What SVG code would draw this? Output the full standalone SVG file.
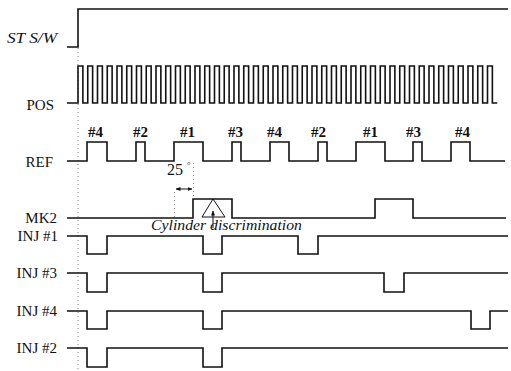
<svg xmlns="http://www.w3.org/2000/svg" width="511" height="371" viewBox="0 0 511 371">
<style>
.sig{fill:none;stroke:#111;stroke-width:1.6;stroke-linejoin:miter}
.lbl{font-family:"Liberation Serif",serif;font-size:15px;fill:#111;text-anchor:end}
.num{font-family:"Liberation Serif",serif;font-size:15px;fill:#111;font-weight:bold}
.deg{font-family:"Liberation Serif",serif;font-size:16px;fill:#111}
.dot{fill:none;stroke:#888;stroke-width:1;stroke-dasharray:1 3}
.ann{fill:none;stroke:#111;stroke-width:1}
</style>
<defs>
<marker id="ah" viewBox="0 0 10 10" refX="9" refY="5" markerWidth="5" markerHeight="5" orient="auto-start-reverse">
<path d="M0,1 L10,5 L0,9 z" fill="#111"/>
</marker>
</defs>
<rect width="511" height="371" fill="#fff"/>
<path class="dot" d="M78,48 V370"/>
<g id="stsw">
<text class="lbl" x="57" y="43" font-style="italic" textLength="50" lengthAdjust="spacingAndGlyphs">ST S/W</text>
<path class="sig" d="M67,47 H78 V9 H508"/>
</g>
<g id="pos">
<text class="lbl" x="54" y="110">POS</text>
<path class="sig" stroke-width="1.3" d="M67,103 H78 v-37h4.875v37h4.875 v-37h4.875v37h4.875 v-37h4.875v37h4.875 v-37h4.875v37h4.875 v-37h4.875v37h4.875 v-37h4.875v37h4.875 v-37h4.875v37h4.875 v-37h4.875v37h4.875 v-37h4.875v37h4.875 v-37h4.875v37h4.875 v-37h4.875v37h4.875 v-37h4.875v37h4.875 v-37h4.875v37h4.875 v-37h4.875v37h4.875 v-37h4.875v37h4.875 v-37h4.875v37h4.875 v-37h4.875v37h4.875 v-37h4.875v37h4.875 v-37h4.875v37h4.875 v-37h4.875v37h4.875 v-37h4.875v37h4.875 v-37h4.875v37h4.875 v-37h4.875v37h4.875 v-37h4.875v37h4.875 v-37h4.875v37h4.875 v-37h4.875v37h4.875 v-37h4.875v37h4.875 v-37h4.875v37h4.875 v-37h4.875v37h4.875 v-37h4.875v37h4.875 v-37h4.875v37h4.875 v-37h4.875v37h4.875 v-37h4.875v37h4.875 v-37h4.875v37h4.875 v-37h4.875v37h4.875 v-37h4.875v37h4.875 v-37h4.875v37h4.875 v-37h4.875v37h4.875 v-37h4.875v37h4.875 v-37h4.875v37h4.875 v-37h4.875v37h4.875 v-37h4.875v37h4.875 v-37h4.875v37h4.875"/>
</g>
<g id="ref">
<text class="lbl" x="53" y="167">REF</text>
<path class="sig" d="M67,161 H87 V142 H107 V161 H136 V142 H145 V161 H174 V142 H203 V161 H232 V142 H241 V161 H270 V142 H289 V161 H318 V142 H327 V161 H356 V142 H385 V161 H413 V142 H422 V161 H451 V142 H470 V161 H505"/>
<text class="num" x="88" y="137">#4</text>
<text class="num" x="133" y="137">#2</text>
<text class="num" x="180" y="137">#1</text>
<text class="num" x="228" y="137">#3</text>
<text class="num" x="267" y="137">#4</text>
<text class="num" x="311" y="137">#2</text>
<text class="num" x="363" y="137">#1</text>
<text class="num" x="406" y="137">#3</text>
<text class="num" x="455" y="137">#4</text>
</g>
<g id="angle">
<text class="deg" x="167" y="175">25</text>
<text x="187" y="168" font-family="Liberation Serif,serif" font-size="9" fill="#111">°</text>
<path class="dot" d="M193.5,163 V199 M174.5,192 V217"/>
</g>
<g id="mk2">
<text class="lbl" x="57" y="223">MK2</text>
<path class="sig" d="M67,218 H193 V199 H232 V218 H375 V199 H413 V218 H506"/>
<polygon class="ann" points="213,199 202,217 225,217"/>
<text x="151" y="230" font-family="Liberation Serif,serif" font-size="14.5" font-style="italic" fill="#111" textLength="151" lengthAdjust="spacingAndGlyphs">Cylinder discrimination</text>
</g>
<g id="inj1">
<text class="lbl" x="58" y="241">INJ #1</text>
<path class="sig" d="M67,236 H87 V254 H107 V236 H203 V254 H222 V236 H298 V254 H318 V236 H508"/>
</g>
<g id="inj3">
<text class="lbl" x="57" y="278">INJ #3</text>
<path class="sig" d="M67,273 H87 V292 H107 V273 H203 V292 H222 V273 H384 V292 H404 V273 H508"/>
</g>
<g id="inj4">
<text class="lbl" x="57" y="316">INJ #4</text>
<path class="sig" d="M67,311 H87 V329 H107 V311 H203 V329 H222 V311 H471 V329 H490 V311 H508"/>
</g>
<g id="inj2">
<text class="lbl" x="57" y="353">INJ #2</text>
<path class="sig" d="M67,348 H87 V367 H107 V348 H203 V367 H222 V348 H508"/>
</g>
<g id="connectors">
<line class="ann" x1="176" y1="189" x2="192" y2="189" marker-start="url(#ah)" marker-end="url(#ah)"/>
<line class="ann" x1="213" y1="228" x2="213" y2="211" marker-end="url(#ah)"/>
</g>
</svg>
